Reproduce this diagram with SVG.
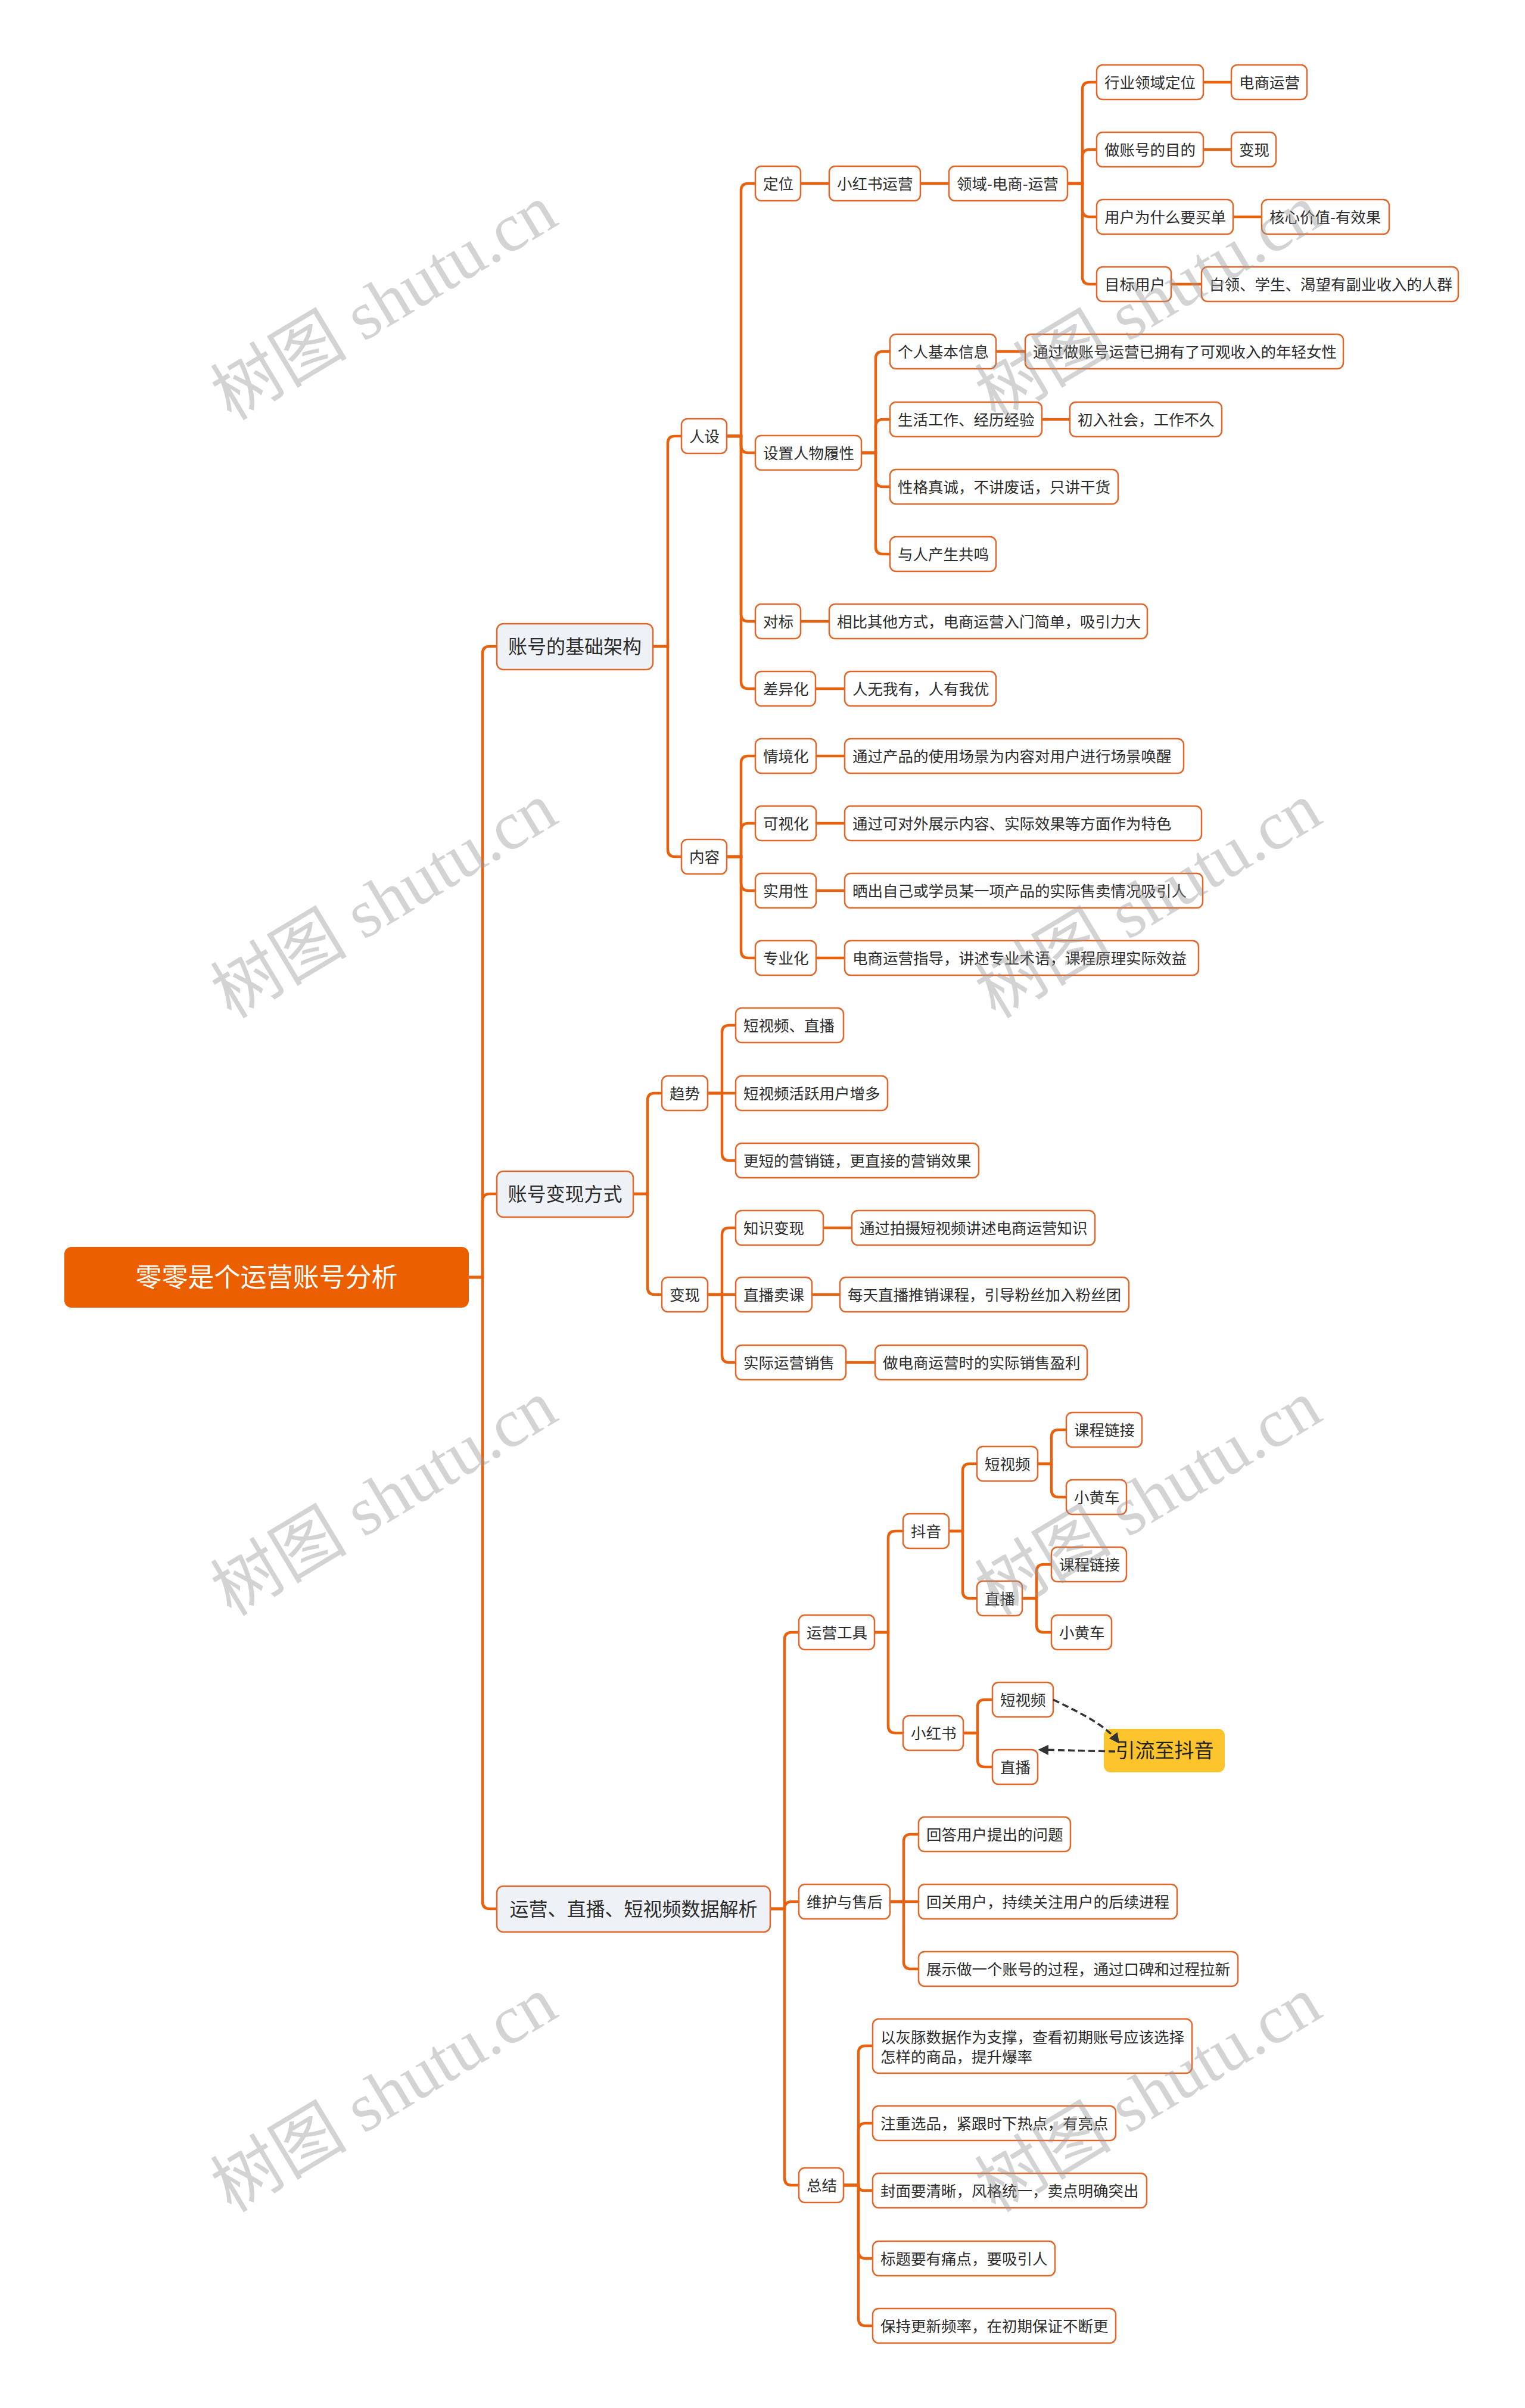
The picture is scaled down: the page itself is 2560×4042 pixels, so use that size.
<svg xmlns="http://www.w3.org/2000/svg" width="2560" height="4042" viewBox="0 0 2560 4042">
<defs>
<style>
.n rect{fill:#fff;stroke:#E0662A;stroke-width:2.5}
.l1 rect{fill:#EEF1F5;stroke:#E0662A;stroke-width:2.5}
.t{font-family:"Noto Sans CJK SC","Noto Sans",sans-serif;font-size:25.5px;fill:#2b2b2b}
.t1{font-family:"Noto Sans CJK SC","Noto Sans",sans-serif;font-size:32px;fill:#2b2b2b;text-anchor:middle}
.c path{fill:none;stroke:#E8620E;stroke-width:4.5}
.d path{fill:none;stroke:#333;stroke-width:3.5;stroke-dasharray:11 6}
.wm{font-family:"Liberation Serif","Noto Sans CJK SC",serif;font-size:115px;fill:#999;opacity:.42;text-anchor:middle;dominant-baseline:central}
</style>
<marker id="ah" viewBox="0 0 10 10" refX="8" refY="5" markerWidth="5" markerHeight="5" orient="auto" markerUnits="strokeWidth">
<path d="M0,0 L10,5 L0,10 z" fill="#333"/>
</marker>
</defs>
<rect width="2560" height="4042" fill="#fff"/>

<g id="connectors" class="c">
<path d="M787,2144 H810 V1097 Q810,1085 822,1085 H834"/>
<path d="M787,2144 H810 V2016 Q810,2004 822,2004 H834"/>
<path d="M787,2144 H810 V3192 Q810,3204 822,3204 H834"/>
<path d="M1096,1085 H1121 V744 Q1121,732 1133,732 H1144"/>
<path d="M1096,1085 H1121 V1426 Q1121,1438 1133,1438 H1144"/>
<path d="M1220,732 H1244 V320 Q1244,308 1256,308 H1268"/>
<path d="M1220,732 H1244 V748 Q1244,760 1256,760 H1268"/>
<path d="M1220,732 H1244 V1031 Q1244,1043 1256,1043 H1268"/>
<path d="M1220,732 H1244 V1144 Q1244,1156 1256,1156 H1268"/>
<path d="M1344,308 H1392"/>
<path d="M1545,308 H1593"/>
<path d="M1792,308 H1817 V150 Q1817,138 1829,138 H1841"/>
<path d="M1792,308 H1817 V263 Q1817,251 1829,251 H1841"/>
<path d="M1792,308 H1817 V352 Q1817,364 1829,364 H1841"/>
<path d="M1792,308 H1817 V465 Q1817,477 1829,477 H1841"/>
<path d="M2020,138 H2067"/>
<path d="M2020,251 H2067"/>
<path d="M2070,364 H2118"/>
<path d="M1966,477 H2017"/>
<path d="M1446,760 H1470 V602 Q1470,590 1482,590 H1494"/>
<path d="M1446,760 H1470 V716 Q1470,704 1482,704 H1494"/>
<path d="M1446,760 H1470 V805 Q1470,817 1482,817 H1494"/>
<path d="M1446,760 H1470 V918 Q1470,930 1482,930 H1494"/>
<path d="M1672,590 H1721"/>
<path d="M1749,704 H1796"/>
<path d="M1344,1043 H1392"/>
<path d="M1369,1156 H1418"/>
<path d="M1220,1438 H1244 V1281 Q1244,1269 1256,1269 H1268"/>
<path d="M1220,1438 H1244 V1394 Q1244,1382 1256,1382 H1268"/>
<path d="M1220,1438 H1244 V1483 Q1244,1495 1256,1495 H1268"/>
<path d="M1220,1438 H1244 V1596 Q1244,1608 1256,1608 H1268"/>
<path d="M1370,1269 H1418"/>
<path d="M1370,1382 H1418"/>
<path d="M1370,1495 H1418"/>
<path d="M1370,1608 H1418"/>
<path d="M1063,2004 H1087 V1847 Q1087,1835 1099,1835 H1111"/>
<path d="M1063,2004 H1087 V2161 Q1087,2173 1099,2173 H1111"/>
<path d="M1188,1835 H1212 V1733 Q1212,1721 1224,1721 H1235"/>
<path d="M1188,1835 H1235"/>
<path d="M1188,1835 H1212 V1936 Q1212,1948 1224,1948 H1235"/>
<path d="M1188,2173 H1212 V2073 Q1212,2061 1224,2061 H1235"/>
<path d="M1188,2173 H1235"/>
<path d="M1188,2173 H1212 V2275 Q1212,2287 1224,2287 H1235"/>
<path d="M1382,2061 H1430"/>
<path d="M1363,2173 H1410"/>
<path d="M1420,2287 H1469"/>
<path d="M1293,3204 H1317 V2752 Q1317,2740 1329,2740 H1341"/>
<path d="M1293,3204 H1317 Q1317,3192 1329,3192 H1341"/>
<path d="M1293,3204 H1317 V3656 Q1317,3668 1329,3668 H1341"/>
<path d="M1468,2740 H1491 V2582 Q1491,2570 1503,2570 H1516"/>
<path d="M1468,2740 H1491 V2897 Q1491,2909 1503,2909 H1516"/>
<path d="M1593,2570 H1616 V2469 Q1616,2457 1628,2457 H1640"/>
<path d="M1593,2570 H1616 V2671 Q1616,2683 1628,2683 H1640"/>
<path d="M1742,2457 H1765 V2412 Q1765,2400 1777,2400 H1790"/>
<path d="M1742,2457 H1765 V2501 Q1765,2513 1777,2513 H1790"/>
<path d="M1716,2683 H1740 V2638 Q1740,2626 1752,2626 H1765"/>
<path d="M1716,2683 H1740 V2728 Q1740,2740 1752,2740 H1765"/>
<path d="M1617,2909 H1641 V2865 Q1641,2853 1653,2853 H1666"/>
<path d="M1617,2909 H1641 V2954 Q1641,2966 1653,2966 H1666"/>
<path d="M1494,3192 H1517 V3091 Q1517,3079 1529,3079 H1542"/>
<path d="M1494,3192 H1542"/>
<path d="M1494,3192 H1517 V3293 Q1517,3305 1529,3305 H1542"/>
<path d="M1416,3668 H1441 V3446 Q1441,3434 1453,3434 H1465"/>
<path d="M1416,3668 H1441 V3576 Q1441,3564 1453,3564 H1465"/>
<path d="M1416,3668 H1441 Q1441,3677 1450,3677 H1465"/>
<path d="M1416,3668 H1441 V3779 Q1441,3791 1453,3791 H1465"/>
<path d="M1416,3668 H1441 V3892 Q1441,3904 1453,3904 H1465"/>
</g>

<g id="root"><rect x="108" y="2093" width="679" height="102" rx="12" fill="#EB5F00"/><text x="447.5" y="2160" font-family="Noto Sans CJK SC, Noto Sans, sans-serif" font-size="44" fill="#fff" text-anchor="middle">零零是个运营账号分析</text></g>

<g id="n-a" class="l1"><rect x="834" y="1047" width="262" height="77" rx="11"/><text class="t1" x="965" y="1097">账号的基础架构</text></g>
<g id="n-b" class="l1"><rect x="834" y="1966" width="229" height="77" rx="11"/><text class="t1" x="948.5" y="2016">账号变现方式</text></g>
<g id="n-c" class="l1"><rect x="834" y="3166" width="459" height="77" rx="11"/><text class="t1" x="1063.5" y="3216">运营、直播、短视频数据解析</text></g>

<g id="n-renshe" class="n"><rect x="1144" y="703" width="76" height="58" rx="10"/><text class="t" x="1157" y="741.5">人设</text></g>
<g id="n-neirong" class="n"><rect x="1144" y="1409" width="76" height="58" rx="10"/><text class="t" x="1157" y="1447.5">内容</text></g>
<g id="n-dingwei" class="n"><rect x="1268" y="279" width="76" height="58" rx="10"/><text class="t" x="1281" y="317.5">定位</text></g>
<g id="n-shezhi" class="n"><rect x="1268" y="731" width="178" height="58" rx="10"/><text class="t" x="1281" y="769.5">设置人物履性</text></g>
<g id="n-duibiao" class="n"><rect x="1268" y="1014" width="76" height="58" rx="10"/><text class="t" x="1281" y="1052.5">对标</text></g>
<g id="n-chayi" class="n"><rect x="1268" y="1127" width="101" height="58" rx="10"/><text class="t" x="1281" y="1165.5">差异化</text></g>
<g id="n-xhsyy" class="n"><rect x="1392" y="279" width="153" height="58" rx="10"/><text class="t" x="1405" y="317.5">小红书运营</text></g>
<g id="n-lingyu" class="n"><rect x="1593" y="279" width="199" height="58" rx="10"/><text class="t" x="1606" y="317.5">领域-电商-运营</text></g>
<g id="n-hangye" class="n"><rect x="1841" y="109" width="179" height="58" rx="10"/><text class="t" x="1854" y="147.5">行业领域定位</text></g>
<g id="n-dsyy" class="n"><rect x="2067" y="109" width="127" height="58" rx="10"/><text class="t" x="2080" y="147.5">电商运营</text></g>
<g id="n-mudi" class="n"><rect x="1841" y="222" width="179" height="58" rx="10"/><text class="t" x="1854" y="260.5">做账号的目的</text></g>
<g id="n-bianxian1" class="n"><rect x="2067" y="222" width="75" height="58" rx="10"/><text class="t" x="2080" y="260.5">变现</text></g>
<g id="n-maidan" class="n"><rect x="1841" y="335" width="229" height="58" rx="10"/><text class="t" x="1854" y="373.5">用户为什么要买单</text></g>
<g id="n-hexin" class="n"><rect x="2118" y="335" width="214" height="58" rx="10"/><text class="t" x="2131" y="373.5">核心价值-有效果</text></g>
<g id="n-mubiao" class="n"><rect x="1841" y="448" width="125" height="58" rx="10"/><text class="t" x="1854" y="486.5">目标用户</text></g>
<g id="n-bailing" class="n"><rect x="2017" y="448" width="431" height="58" rx="10"/><text class="t" x="2030" y="486.5">白领、学生、渴望有副业收入的人群</text></g>
<g id="n-geren" class="n"><rect x="1494" y="561" width="178" height="58" rx="10"/><text class="t" x="1507" y="599.5">个人基本信息</text></g>
<g id="n-tongguo1" class="n"><rect x="1721" y="561" width="534" height="58" rx="10"/><text class="t" x="1734" y="599.5">通过做账号运营已拥有了可观收入的年轻女性</text></g>
<g id="n-shenghuo" class="n"><rect x="1494" y="675" width="255" height="58" rx="10"/><text class="t" x="1507" y="713.5">生活工作、经历经验</text></g>
<g id="n-churu" class="n"><rect x="1796" y="675" width="255" height="58" rx="10"/><text class="t" x="1809" y="713.5">初入社会，工作不久</text></g>
<g id="n-xingge" class="n"><rect x="1494" y="788" width="383" height="58" rx="10"/><text class="t" x="1507" y="826.5">性格真诚，不讲废话，只讲干货</text></g>
<g id="n-gongming" class="n"><rect x="1494" y="901" width="178" height="58" rx="10"/><text class="t" x="1507" y="939.5">与人产生共鸣</text></g>
<g id="n-xiangbi" class="n"><rect x="1392" y="1014" width="534" height="58" rx="10"/><text class="t" x="1405" y="1052.5">相比其他方式，电商运营入门简单，吸引力大</text></g>
<g id="n-renwu" class="n"><rect x="1418" y="1127" width="254" height="58" rx="10"/><text class="t" x="1431" y="1165.5">人无我有，人有我优</text></g>
<g id="n-qingjing" class="n"><rect x="1268" y="1240" width="102" height="58" rx="10"/><text class="t" x="1281" y="1278.5">情境化</text></g>
<g id="n-qingjing-d" class="n"><rect x="1418" y="1240" width="569" height="58" rx="10"/><text class="t" x="1431" y="1278.5">通过产品的使用场景为内容对用户进行场景唤醒</text></g>
<g id="n-keshi" class="n"><rect x="1268" y="1353" width="102" height="58" rx="10"/><text class="t" x="1281" y="1391.5">可视化</text></g>
<g id="n-keshi-d" class="n"><rect x="1418" y="1353" width="599" height="58" rx="10"/><text class="t" x="1431" y="1391.5">通过可对外展示内容、实际效果等方面作为特色</text></g>
<g id="n-shiyong" class="n"><rect x="1268" y="1466" width="102" height="58" rx="10"/><text class="t" x="1281" y="1504.5">实用性</text></g>
<g id="n-shiyong-d" class="n"><rect x="1418" y="1466" width="601" height="58" rx="10"/><text class="t" x="1431" y="1504.5">晒出自己或学员某一项产品的实际售卖情况吸引人</text></g>
<g id="n-zhuanye" class="n"><rect x="1268" y="1579" width="102" height="58" rx="10"/><text class="t" x="1281" y="1617.5">专业化</text></g>
<g id="n-zhuanye-d" class="n"><rect x="1418" y="1579" width="594" height="58" rx="10"/><text class="t" x="1431" y="1617.5">电商运营指导，讲述专业术语，课程原理实际效益</text></g>

<g id="n-qushi" class="n"><rect x="1111" y="1806" width="77" height="58" rx="10"/><text class="t" x="1124" y="1844.5">趋势</text></g>
<g id="n-bianxian2" class="n"><rect x="1111" y="2144" width="77" height="58" rx="10"/><text class="t" x="1124" y="2182.5">变现</text></g>
<g id="n-dsp-zb" class="n"><rect x="1235" y="1692" width="181" height="58" rx="10"/><text class="t" x="1248" y="1730.5">短视频、直播</text></g>
<g id="n-huoyue" class="n"><rect x="1235" y="1806" width="255" height="58" rx="10"/><text class="t" x="1248" y="1844.5">短视频活跃用户增多</text></g>
<g id="n-gengduan" class="n"><rect x="1235" y="1919" width="408" height="58" rx="10"/><text class="t" x="1248" y="1957.5">更短的营销链，更直接的营销效果</text></g>
<g id="n-zhishi" class="n"><rect x="1235" y="2032" width="147" height="58" rx="10"/><text class="t" x="1248" y="2070.5">知识变现</text></g>
<g id="n-zhishi-d" class="n"><rect x="1430" y="2032" width="408" height="58" rx="10"/><text class="t" x="1443" y="2070.5">通过拍摄短视频讲述电商运营知识</text></g>
<g id="n-zhibomk" class="n"><rect x="1235" y="2144" width="128" height="58" rx="10"/><text class="t" x="1248" y="2182.5">直播卖课</text></g>
<g id="n-zhibomk-d" class="n"><rect x="1410" y="2144" width="485" height="58" rx="10"/><text class="t" x="1423" y="2182.5">每天直播推销课程，引导粉丝加入粉丝团</text></g>
<g id="n-shiji" class="n"><rect x="1235" y="2258" width="185" height="58" rx="10"/><text class="t" x="1248" y="2296.5">实际运营销售</text></g>
<g id="n-shiji-d" class="n"><rect x="1469" y="2258" width="356" height="58" rx="10"/><text class="t" x="1482" y="2296.5">做电商运营时的实际销售盈利</text></g>

<g id="n-gongju" class="n"><rect x="1341" y="2711" width="127" height="58" rx="10"/><text class="t" x="1354" y="2749.5">运营工具</text></g>
<g id="n-douyin" class="n"><rect x="1516" y="2541" width="77" height="58" rx="10"/><text class="t" x="1529" y="2579.5">抖音</text></g>
<g id="n-dy-dsp" class="n"><rect x="1640" y="2428" width="102" height="58" rx="10"/><text class="t" x="1653" y="2466.5">短视频</text></g>
<g id="n-dy-dsp-kc" class="n"><rect x="1790" y="2371" width="127" height="58" rx="10"/><text class="t" x="1803" y="2409.5">课程链接</text></g>
<g id="n-dy-dsp-xhc" class="n"><rect x="1790" y="2484" width="101" height="58" rx="10"/><text class="t" x="1803" y="2522.5">小黄车</text></g>
<g id="n-dy-zb" class="n"><rect x="1640" y="2654" width="76" height="58" rx="10"/><text class="t" x="1653" y="2692.5">直播</text></g>
<g id="n-dy-zb-kc" class="n"><rect x="1765" y="2597" width="126" height="58" rx="10"/><text class="t" x="1778" y="2635.5">课程链接</text></g>
<g id="n-dy-zb-xhc" class="n"><rect x="1765" y="2711" width="101" height="58" rx="10"/><text class="t" x="1778" y="2749.5">小黄车</text></g>
<g id="n-xhs" class="n"><rect x="1516" y="2880" width="101" height="58" rx="10"/><text class="t" x="1529" y="2918.5">小红书</text></g>
<g id="n-xhs-dsp" class="n"><rect x="1666" y="2824" width="102" height="58" rx="10"/><text class="t" x="1679" y="2862.5">短视频</text></g>
<g id="n-xhs-zb" class="n"><rect x="1666" y="2937" width="76" height="58" rx="10"/><text class="t" x="1679" y="2975.5">直播</text></g>
<g id="n-yinliu"><rect x="1853" y="2902" width="203" height="73" rx="11" fill="#FBC42C"/><text x="1955" y="2950" font-family="Noto Sans CJK SC, Noto Sans, sans-serif" font-size="33" fill="#222" text-anchor="middle">引流至抖音</text></g>

<g id="relations" class="d">
<path d="M1768,2853 C1820,2878 1858,2898 1877,2924" marker-end="url(#ah)"/>
<path d="M1872,2940 L1746,2937" marker-end="url(#ah)"/>
</g>

<g id="n-weihu" class="n"><rect x="1341" y="3163" width="153" height="58" rx="10"/><text class="t" x="1354" y="3201.5">维护与售后</text></g>
<g id="n-huida" class="n"><rect x="1542" y="3050" width="255" height="58" rx="10"/><text class="t" x="1555" y="3088.5">回答用户提出的问题</text></g>
<g id="n-huiguan" class="n"><rect x="1542" y="3163" width="434" height="58" rx="10"/><text class="t" x="1555" y="3201.5">回关用户，持续关注用户的后续进程</text></g>
<g id="n-zhanshi" class="n"><rect x="1542" y="3276" width="536" height="58" rx="10"/><text class="t" x="1555" y="3314.5">展示做一个账号的过程，通过口碑和过程拉新</text></g>
<g id="n-zongjie" class="n"><rect x="1341" y="3639" width="75" height="58" rx="10"/><text class="t" x="1354" y="3677.5">总结</text></g>
<g id="n-huitun" class="n"><rect x="1465" y="3389" width="536" height="91" rx="10"/><text class="t" x="1478" y="3429">以灰豚数据作为支撑，查看初期账号应该选择</text><text class="t" x="1478" y="3462">怎样的商品，提升爆率</text></g>
<g id="n-xuanpin" class="n"><rect x="1465" y="3535" width="408" height="58" rx="10"/><text class="t" x="1478" y="3573.5">注重选品，紧跟时下热点，有亮点</text></g>
<g id="n-fengmian" class="n"><rect x="1465" y="3648" width="460" height="58" rx="10"/><text class="t" x="1478" y="3686.5">封面要清晰，风格统一，卖点明确突出</text></g>
<g id="n-biaoti" class="n"><rect x="1465" y="3762" width="306" height="58" rx="10"/><text class="t" x="1478" y="3800.5">标题要有痛点，要吸引人</text></g>
<g id="n-baochi" class="n"><rect x="1465" y="3875" width="408" height="58" rx="10"/><text class="t" x="1478" y="3913.5">保持更新频率，在初期保证不断更</text></g>

<g id="watermark">
<text class="wm" x="645" y="508" transform="rotate(-31 645 508)">树图 shutu.cn</text>
<text class="wm" x="1928" y="508" transform="rotate(-31 1928 508)">树图 shutu.cn</text>
<text class="wm" x="645" y="1512" transform="rotate(-31 645 1512)">树图 shutu.cn</text>
<text class="wm" x="1928" y="1512" transform="rotate(-31 1928 1512)">树图 shutu.cn</text>
<text class="wm" x="645" y="2515" transform="rotate(-31 645 2515)">树图 shutu.cn</text>
<text class="wm" x="1928" y="2515" transform="rotate(-31 1928 2515)">树图 shutu.cn</text>
<text class="wm" x="645" y="3516" transform="rotate(-31 645 3516)">树图 shutu.cn</text>
<text class="wm" x="1928" y="3516" transform="rotate(-31 1928 3516)">树图 shutu.cn</text>
</g>
</svg>
